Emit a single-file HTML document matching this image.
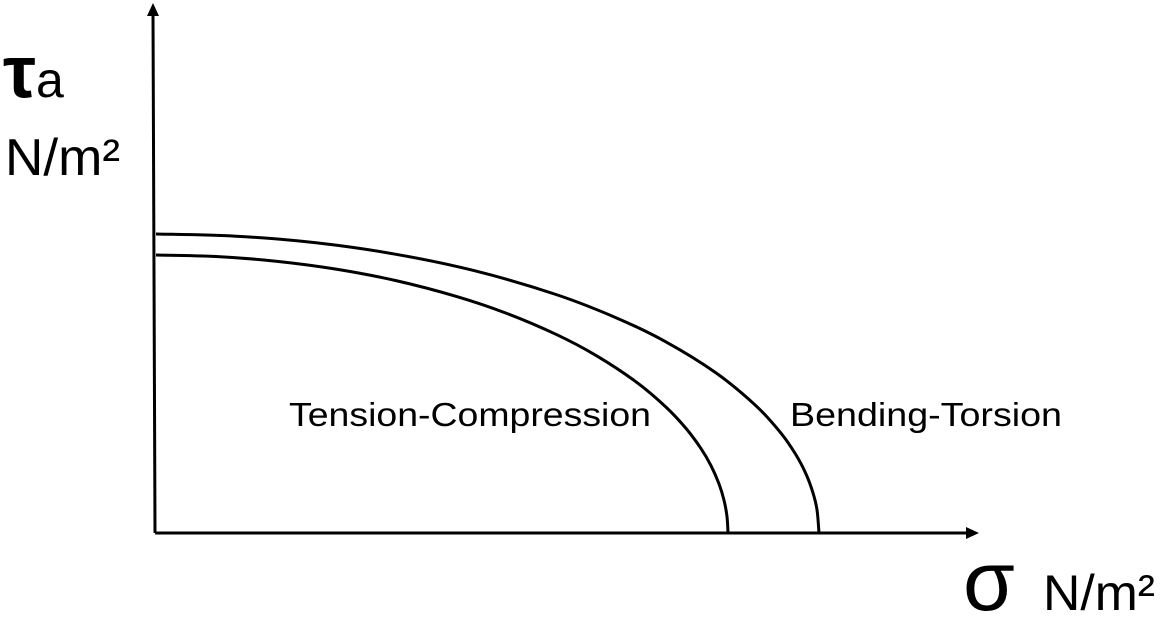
<!DOCTYPE html>
<html><head><meta charset="utf-8"><style>
html,body{margin:0;padding:0;background:#fff;}
svg{display:block;font-family:"Liberation Sans","DejaVu Sans",sans-serif;}
</style></head><body>
<svg id="chart" width="1165" height="621" viewBox="0 0 1165 621">
<g id="axes">
<line x1="155" y1="533" x2="153" y2="14" stroke="#000" stroke-width="3"/>
<polygon points="153,3 147,16 159,16" fill="#000"/>
<line x1="155" y1="533" x2="968" y2="533" stroke="#000" stroke-width="3"/>
<polygon points="979,533 966,527 966,539" fill="#000"/>
</g>
<g id="curves"></g>
<text x="3" y="97" font-size="74" font-weight="bold">τ<tspan font-size="50" font-weight="normal">a</tspan></text>
<text x="5" y="175" font-size="52" textLength="115" lengthAdjust="spacingAndGlyphs">N/m²</text>
<text x="963" y="610" font-size="84">σ</text>
<text x="1043" y="610" font-size="50" textLength="112" lengthAdjust="spacingAndGlyphs">N/m²</text>
<text x="289" y="426" font-size="33" textLength="362" lengthAdjust="spacingAndGlyphs">Tension-Compression</text>
<text x="790" y="426" font-size="33" textLength="272" lengthAdjust="spacingAndGlyphs">Bending-Torsion</text>
</svg>
<script>
// sigma, tau in pixel-equivalent units from origin
const innerSigma = [0,60,120,180,240,300,350,400,440,480,510,530,545,555,563,568,571,572];
const innerTau   = [278,276.5,271.8,263.9,252.4,236.7,219.9,198.7,177.6,151.2,125.9,104.6,84.4,67.3,49.1,32.8,16.4,0];
const outerSigma = [0,80,160,240,320,400,460,510,560,600,625,640,650,657,661,663];
const outerTau   = [299,296.8,290.2,278.7,261.9,238.5,215.3,191.1,160.1,127.2,99.8,78.1,59,40.1,23.2,0];
const x0 = 156, y0 = 533;
function xs(v){ return x0 + v; }
function ys(v){ return y0 - v; }
function pathFrom(sx, ty){
  const p = sx.map((s,i)=>[xs(s), ys(ty[i])]);
  let d = 'M' + p[0][0] + ',' + p[0][1];
  for (let i=0;i<p.length-1;i++){
    const a = p[i-1]||p[i], b=p[i], c=p[i+1], e=p[i+2]||c;
    const c1=[b[0]+(c[0]-a[0])/6, b[1]+(c[1]-a[1])/6];
    const c2=[c[0]-(e[0]-b[0])/6, c[1]-(e[1]-b[1])/6];
    d += ' C'+c1[0]+','+c1[1]+' '+c2[0]+','+c2[1]+' '+c[0]+','+c[1];
  }
  return d;
}
const g = document.getElementById('curves');
const ns = 'http://www.w3.org/2000/svg';
const p1 = document.createElementNS(ns,'path');
p1.setAttribute('d', pathFrom(innerSigma, innerTau));
p1.setAttribute('fill','none'); p1.setAttribute('stroke','#000'); p1.setAttribute('stroke-width','3');


g.appendChild(p1);
const p2 = document.createElementNS(ns,'path');
p2.setAttribute('d', pathFrom(outerSigma, outerTau));
p2.setAttribute('fill','none'); p2.setAttribute('stroke','#000'); p2.setAttribute('stroke-width','3');


g.appendChild(p2);
</script>
</body></html>
